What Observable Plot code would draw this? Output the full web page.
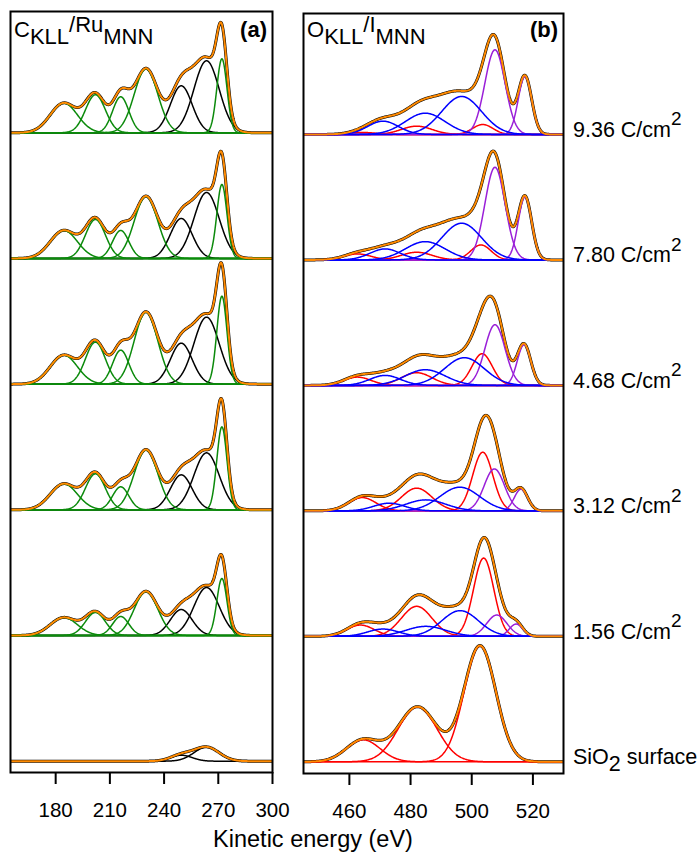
<!DOCTYPE html>
<html><head><meta charset="utf-8">
<script src="https://cdn.jsdelivr.net/npm/d3@7"></script>
<script src="https://cdn.jsdelivr.net/npm/@observablehq/plot@0.6"></script>
<style>
body{margin:0;background:#fff;}
#wrap{position:relative;width:700px;height:853px;background:#fff;font-family:"Liberation Sans",Arial,sans-serif;}
#wrap svg{position:absolute;top:0;overflow:visible;}
</style></head><body><div id="wrap"></div>
<script>
// ---------- data ----------
const rowLabels = ["SiO_2 surface", "1.56 C/cm^2", "3.12 C/cm^2", "4.68 C/cm^2", "7.80 C/cm^2", "9.36 C/cm^2"];
const axisLabel = "Kinetic energy (eV)";

// panel (a): C KLL / Ru MNN
const aTitleParts = [["C", 0], ["KLL", 1], ["/Ru", -1], ["MNN", 1]];
const aTag = "(a)";
const aXDomain = [155, 300];
const aTicks = [180, 210, 240, 270, 300];
const aGroups = ["C", "C", "C", "C", "Ru", "Ru", "C"];
const aCenters = [184.5, 202, 216, 230, 249.5, 263.5, 272];
const aWidths = [7.5, 5.5, 4.5, 6.5, 6, 7, 2.8];
// rows: SiO2, 1.56, 3.12, 4.68, 7.80, 9.36
const aHeights = [
  [0, 0, 0, 0, 6, 14, 0],
  [18, 23, 19, 44, 26, 48, 57],
  [26, 36, 23, 60, 35, 57, 83],
  [29, 42, 34, 72, 41, 67, 88],
  [28, 39, 28, 62, 40, 66, 74],
  [29.7, 38, 36, 64, 47, 72, 74]
];

// panel (b): O KLL / I MNN
const bTitleParts = [["O", 0], ["KLL", 1], ["/I", -1], ["MNN", 1]];
const bTag = "(b)";
const bXDomain = [445, 530];
const bTicks = [460, 480, 500, 520];
const bGroups = ["O1", "O2", "O1", "O2", "O2", "O1", "I", "I"];
const bCenters = [
  [464.5, 471.5, 482.3, 485, 496.5, 502.7, 507.6, 516.5],
  [463.6, 471, 482, 485, 496.2, 503.9, 508.2, 514.5],
  [464.2, 473, 482, 485, 496.1, 503.6, 507.4, 516.1],
  [462.6, 471.7, 482, 484.8, 497.6, 503.4, 507.6, 517.1],
  [462.6, 471.7, 482, 484.8, 496.7, 503, 507.6, 517.4],
  [464.2, 471, 482, 484.8, 496.7, 503.6, 507.6, 517.4]
];
const bWidths = [
  [5.5, 5, 6.3, 6.5, 6.5, 5.2, 3.3, 2.2],
  [4.5, 5, 5, 6.5, 6, 3.3, 3.3, 2.2],
  [4.5, 5, 5, 6.5, 6.5, 3.3, 3.3, 2.2],
  [4.5, 5, 5, 6.5, 6.5, 3.3, 3.3, 2.2],
  [4.5, 5, 5, 6.5, 6.5, 3.3, 3.3, 2.2],
  [4.5, 5, 5, 6.5, 6.5, 3.3, 3.3, 2.2]
];
const bHeights = [
  [22, 0, 55, 0, 0, 116, 0, 0],
  [11.3, 7.3, 30, 10, 25.7, 78.3, 21.3, 12.3],
  [13.3, 7.7, 22.7, 11, 23.7, 58.7, 42, 21.7],
  [8.3, 10, 12.7, 15.7, 27.7, 31.7, 60.7, 40.7],
  [6, 11, 7.7, 18.3, 36.7, 15, 92.7, 63],
  [2, 13.3, 8.3, 21.3, 38, 10, 84.7, 58]
];

// ---------- layout / style ----------
const FONT = "Liberation Sans, Arial, Helvetica, sans-serif";
const SP_A = 125.7, SP_B = 125.5;
const colors = {C: "#0b8a0b", Ru: "#000000", O1: "#ff0000", O2: "#0000ff", I: "#9a1fd8"};
const ORANGE = "#ff8a00";

function build(heights, centers, widths, groups, xDomain, sp) {
  const comps = [], sums = [];
  const step = 0.2;
  const n = Math.round((xDomain[1] - xDomain[0]) / step);
  for (let r = 0; r < heights.length; r++) {
    for (let k = 0; k <= n; k++) {
      const x = xDomain[0] + k * step;
      let s = 0;
      for (let i = 0; i < groups.length; i++) {
        const h = heights[r][i];
        if (!h) continue;
        const c = Array.isArray(centers[0]) ? centers[r][i] : centers[i];
        const w = Array.isArray(widths[0]) ? widths[r][i] : widths[i];
        const g = h * Math.exp(-((x - c) ** 2) / (2 * w * w));
        s += g;
        comps.push({x, y: r * sp + g, key: r + "-" + i, group: groups[i]});
      }
      sums.push({x, y: r * sp + s, row: r});
    }
  }
  return {comps, sums};
}

const A = build(aHeights, aCenters, aWidths, aGroups, aXDomain, SP_A);
const B = build(bHeights, bCenters, bWidths, bGroups, bXDomain, SP_B);

function compMarks(D, order) {
  return order.map(g => Plot.line(D.comps.filter(d => d.group === g),
    {x: "x", y: "y", z: "key", stroke: colors[g], strokeWidth: 1.5, clip: true}));
}

function panel(D, opts) {
  return Plot.plot({
    width: opts.width, height: 853,
    marginLeft: opts.ml, marginRight: opts.mr, marginTop: opts.mt, marginBottom: opts.mb,
    x: {domain: opts.xDomain},
    y: {domain: opts.yDomain, axis: null},
    style: {fontFamily: FONT, fontSize: "20px", background: "white", overflow: "visible", color: "black"},
    marks: [
      Plot.axisX({ticks: opts.ticks, tickSize: 12, tickPadding: 18, label: null, strokeWidth: 2, fontSize: 20, tickFormat: d => String(d)}),
      Plot.line(D.sums, {x: "x", y: "y", z: "row", stroke: "black", strokeWidth: 3, clip: true}),
      ...compMarks(D, opts.order),
      Plot.line(D.sums, {x: "x", y: "y", z: "row", stroke: ORANGE, strokeWidth: 2, clip: true}),
      Plot.frame({stroke: "black", strokeWidth: 2})
    ]
  });
}

const plotA = panel(A, {width: 295, ml: 10, mr: 23, mt: 11, mb: 81, xDomain: aXDomain, ticks: aTicks,
  yDomain: [-11.3, 5 * SP_A + 121.3], order: ["Ru", "C"]});
const plotB = panel(B, {width: 405, ml: 8, mr: 137, mt: 13, mb: 80, xDomain: bXDomain, ticks: bTicks,
  yDomain: [-11.7, 5 * SP_B + 121], order: ["O1", "I", "O2"]});

const wrap = document.getElementById("wrap");
plotA.style.left = "0px";
plotB.style.left = "295px";
wrap.appendChild(plotA);
wrap.appendChild(plotB);

// enlarge tick labels
[plotA, plotB].forEach(svg => {
  d3.select(svg).selectAll("g[aria-label='x-axis tick label']")
    .attr("font-size", 20.5).style("font-size", "20.5px")
    .selectAll("text").attr("font-size", 20.5).style("font-size", "20.5px");
});

// titles inside panels
function title(svg, x, y, parts) {
  const t = d3.select(svg).append("text").attr("x", x).attr("y", y).attr("text-anchor", "start")
    .attr("font-family", FONT).attr("font-size", 22).attr("fill", "black");
  let level = 0;
  const off = {0: 0, 1: 7.6, "-1": -5};
  parts.forEach(([s, l]) => {
    t.append("tspan").attr("dy", off[l] - off[level]).text(s);
    level = l;
  });
}
title(plotA, 14, 36.7, aTitleParts);
title(plotB, 12, 36.7, bTitleParts);
d3.select(plotA).append("text").attr("x", 267).attr("y", 36.5).attr("text-anchor", "end")
  .attr("font-family", FONT).attr("font-size", 22).attr("font-weight", "bold").text(aTag);
d3.select(plotB).append("text").attr("x", 263).attr("y", 36.5).attr("text-anchor", "end")
  .attr("font-family", FONT).attr("font-size", 22).attr("font-weight", "bold").text(bTag);

// row labels on the right
const yB = plotB.scale("y");
rowLabels.forEach((lab, r) => {
  const t = d3.select(plotB).append("text").attr("x", 278).attr("y", yB.apply(r * SP_B) + 3)
    .attr("text-anchor", "start")
    .attr("font-family", FONT).attr("font-size", 21.5).attr("fill", "black");
  const re = /([_^])(\S)/g;
  let last = 0, m, pending = 0;
  while ((m = re.exec(lab))) {
    if (m.index > last) t.append("tspan").attr("dy", pending).text(lab.slice(last, m.index));
    pending = 0;
    const d = m[1] === "_" ? 7 : -11.7;
    t.append("tspan").attr("dy", d).attr("font-size", m[1] === "_" ? 21.5 : 19).text(m[2]);
    pending = -d;
    last = m.index + m[0].length;
  }
  if (last < lab.length) t.append("tspan").attr("dy", pending).text(lab.slice(last));
});

// shared x-axis label
const ov = d3.select(wrap).append("svg").attr("width", 700).attr("height", 853)
  .style("left", "0px").style("pointer-events", "none");
ov.append("text").attr("x", 313).attr("y", 847).attr("text-anchor", "middle")
  .attr("font-family", FONT).attr("font-size", 23.5).attr("fill", "black").text(axisLabel);
</script></body></html>
